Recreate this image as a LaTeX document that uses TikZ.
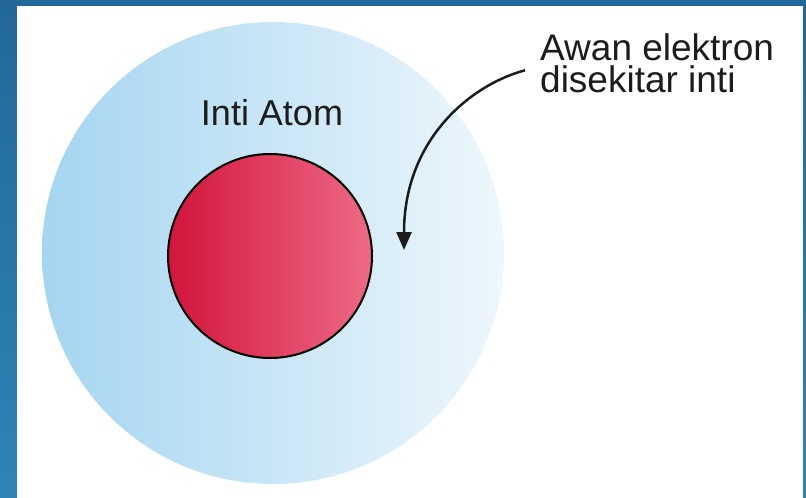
\documentclass[tikz,border=0pt]{standalone}
\usepackage{fontspec}
\setmainfont{Liberation Sans}
\usetikzlibrary{arrows.meta}
\definecolor{frametop}{HTML}{22689A}
\definecolor{framebot}{HTML}{2E84B8}
\definecolor{cloudL}{HTML}{A4D5F1}
\definecolor{cloudM}{HTML}{C6E5F6}
\definecolor{cloudR}{HTML}{EEF7FC}
\definecolor{nucL}{HTML}{D3143C}
\definecolor{nucR}{HTML}{EE6A86}
\definecolor{ink}{HTML}{1C1C1C}
\tikzset{
  labeltext/.style={text=ink, inner sep=0pt},
  pointer/.style={draw=ink, line width=2.5pt, -{Triangle[length=18pt,width=15pt]}}
}
\begin{document}
\begin{tikzpicture}[x=1pt,y=-1pt]
\useasboundingbox (0,0) rectangle (806,498);
% blue frame and white panel
\shade[top color=frametop, bottom color=framebot] (0,0) rectangle (806,498);
\fill[white] (17,6) rectangle (803,498);
% electron cloud
\shade[left color=cloudL, middle color=cloudM, right color=cloudR]
  (273,253) circle[radius=231pt];
% nucleus
\shade[left color=nucL, right color=nucR] (270,256) circle[radius=102pt];
\draw[black, line width=2pt] (270,256) circle[radius=102pt];
% labels
\node[labeltext, anchor=base, font=\fontsize{36}{40}\selectfont] (inti) at (272,125) {Inti Atom};
\node[labeltext, anchor=north west, align=left, font=\fontsize{37}{32}\selectfont]
  (awan) at (540,33) {Awan elektron\\disekitar inti};
\coordinate (cloudpt) at (404,250);
\draw[pointer] ([shift={(-15,7.5)}]awan.west) .. controls (470,85) and (404,140) .. (cloudpt);
\end{tikzpicture}
\end{document}
